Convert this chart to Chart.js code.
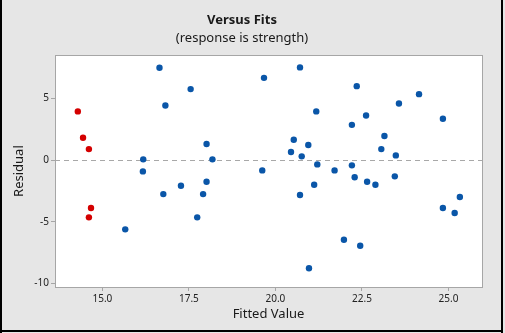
<!DOCTYPE html>
<html lang="en">
<head>
    <meta charset="UTF-8">
    <title>Versus Fits</title>
    <script src="https://cdn.jsdelivr.net/npm/chart.js"></script>
    <style>
        body {
            margin: 0;
            padding: 0;
            background-color: #e6e6e6;
        }
        #chart-container {
            width: 505px;
            height: 333px;
        }
    </style>
</head>
<body>
    <div id="chart-container">
        <canvas id="fitsChart" width="505" height="333"></canvas>
    </div>

    <script>
        // flagged (unusual) observations, shown in red
        const redFits = [14.29, 14.44, 14.61, 14.67, 14.61];
        const redResiduals = [3.95, 1.81, 0.89, -3.89, -4.65];

        // all other observations
        const blueFits = [
            15.66, 16.18, 16.17, 16.65, 16.82, 16.76, 17.55, 17.27, 17.74, 17.91,
            18.01, 18.01, 18.18, 19.67, 19.62, 20.71, 20.53, 20.45, 20.76, 20.71,
            20.95, 21.18, 21.21, 21.12, 20.97, 21.71, 22.35, 22.21, 22.21, 22.29,
            21.98, 22.45, 22.62, 22.65, 22.89, 23.06, 23.15, 23.48, 23.45, 23.57,
            24.15, 24.84, 24.84, 25.18, 25.33
        ];
        const blueResiduals = [
            -5.62, 0.06, -0.92, 7.49, 4.43, -2.76, 5.76, -2.08, -4.65, -2.76,
            1.30, -1.76, 0.06, 6.67, -0.84, 7.52, 1.65, 0.65, 0.30, -2.84,
            1.22, 3.95, -0.35, -2.00, -8.78, -0.84, 6.00, 2.86, -0.43, -1.40,
            -6.46, -6.95, 3.62, -1.76, -2.00, 0.89, 1.95, 0.38, -1.32, 4.59,
            5.35, 3.35, -3.89, -4.30, -3.00
        ];

        const xTicks = [15, 17.5, 20, 22.5, 25];
        const yTicks = [-10, -5, 0, 5];
        const refLine = 0;

        function toPoints(xs, ys) {
            return xs.map((x, i) => ({ x: x, y: ys[i] }));
        }

        const fontFamily = "'Noto Sans', 'Open Sans', sans-serif";

        const framePlugin = {
            id: 'frame',
            beforeDraw(chart) {
                const ctx = chart.ctx;
                const a = chart.chartArea;
                ctx.save();
                ctx.fillStyle = '#e6e6e6';
                ctx.fillRect(0, 0, chart.width, chart.height);
                ctx.fillStyle = '#ffffff';
                ctx.fillRect(a.left, a.top, a.right - a.left, a.bottom - a.top);
                // dashed zero line
                const y0 = chart.scales.y.getPixelForValue(refLine);
                ctx.strokeStyle = '#a8a8a8';
                ctx.lineWidth = 1;
                ctx.setLineDash([5, 4]);
                ctx.beginPath();
                ctx.moveTo(a.left, Math.round(y0) + 0.5);
                ctx.lineTo(a.right, Math.round(y0) + 0.5);
                ctx.stroke();
                ctx.restore();
            },
            afterDraw(chart) {
                const ctx = chart.ctx;
                const a = chart.chartArea;
                ctx.save();
                ctx.strokeStyle = '#a6a6a6';
                ctx.lineWidth = 1;
                ctx.strokeRect(Math.round(a.left) + 0.5, Math.round(a.top) + 0.5,
                    Math.round(a.right - a.left), Math.round(a.bottom - a.top));
                // outer black frame
                ctx.fillStyle = '#000000';
                ctx.fillRect(0, 0, 2, chart.height);
                ctx.fillRect(501, 0, 2, chart.height);
                ctx.fillRect(0, 330, 503, 2);
                ctx.restore();
            }
        };

        const ctx = document.getElementById('fitsChart').getContext('2d');
        new Chart(ctx, {
            type: 'scatter',
            data: {
                datasets: [
                    {
                        label: 'other',
                        data: toPoints(blueFits, blueResiduals),
                        backgroundColor: '#0a56a8',
                        borderColor: '#0a56a8',
                        pointRadius: 3.2,
                        borderWidth: 0
                    },
                    {
                        label: 'unusual',
                        data: toPoints(redFits, redResiduals),
                        backgroundColor: '#d40000',
                        borderColor: '#d40000',
                        pointRadius: 3.2,
                        borderWidth: 0
                    }
                ]
            },
            options: {
                responsive: false,
                animation: false,
                devicePixelRatio: 1,
                layout: {
                    padding: { left: 2, right: 23, top: 0, bottom: 0 }
                },
                plugins: {
                    legend: { display: false },
                    tooltip: { enabled: false },
                    title: {
                        display: true,
                        text: 'Versus Fits',
                        color: '#1a1a1a',
                        font: { family: fontFamily, size: 13, weight: 'bold' },
                        padding: { top: 12, bottom: 0 }
                    },
                    subtitle: {
                        display: true,
                        text: '(response is strength)',
                        color: '#1a1a1a',
                        font: { family: fontFamily, size: 13 },
                        padding: { top: 3, bottom: 9 }
                    }
                },
                scales: {
                    x: {
                        type: 'linear',
                        min: 13.63,
                        max: 25.97,
                        afterBuildTicks(scale) {
                            scale.ticks = xTicks.map(v => ({ value: v }));
                        },
                        afterFit(scale) {
                            scale.height = 46;
                        },
                        ticks: {
                            color: '#222',
                            font: { family: fontFamily, size: 10 },
                            padding: 2,
                            maxRotation: 0,
                            callback: v => Number(v).toFixed(1)
                        },
                        grid: {
                            drawOnChartArea: false,
                            tickLength: 4,
                            tickColor: '#a6a6a6'
                        },
                        border: { display: false },
                        title: {
                            display: true,
                            text: 'Fitted Value',
                            color: '#1a1a1a',
                            font: { family: fontFamily, size: 13 },
                            padding: { top: 0, bottom: 11 }
                        }
                    },
                    y: {
                        type: 'linear',
                        min: -10.3,
                        max: 8.51,
                        afterBuildTicks(scale) {
                            scale.ticks = yTicks.map(v => ({ value: v }));
                        },
                        afterFit(scale) {
                            scale.width = 53;
                        },
                        ticks: {
                            color: '#222',
                            font: { family: fontFamily, size: 10 },
                            padding: 2,
                            callback: v => String(v)
                        },
                        grid: {
                            drawOnChartArea: false,
                            tickLength: 4,
                            tickColor: '#a6a6a6'
                        },
                        border: { display: false },
                        title: {
                            display: true,
                            text: 'Residual',
                            color: '#1a1a1a',
                            font: { family: fontFamily, size: 13 },
                            padding: { top: 9, bottom: 0 }
                        }
                    }
                }
            },
            plugins: [framePlugin]
        });
    </script>
</body>
</html>
